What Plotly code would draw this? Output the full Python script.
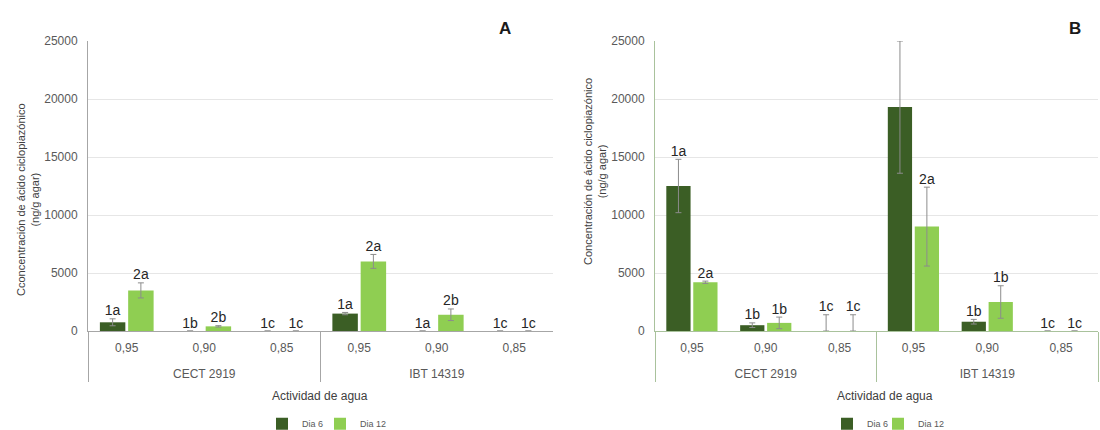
import plotly.graph_objects as go

# Categories: strain (outer level) and water activity (inner level)
strains = ["CECT 2919", "IBT 14319"]
water_activity = ["0,95", "0,90", "0,85"]

# Panel A – CPA concentration (ng/g agar)
a_dia6 = [750, 0, 0, 1500, 0, 0]
a_dia6_err = [300, None, None, 100, None, None]
a_dia12 = [3500, 400, 0, 6000, 1400, 0]
a_dia12_err = [650, 60, None, 600, 500, None]
a_dia6_lbl = ["1a", "1b", "1c", "1a", "1a", "1c"]
a_dia12_lbl = ["2a", "2b", "1c", "2a", "2b", "1c"]

# Panel B – CPA concentration (ng/g agar)
b_dia6 = [12500, 500, 0, 19300, 800, 0]
b_dia6_err = [2300, 200, 1400, 5700, 200, None]
b_dia12 = [4200, 700, 0, 9000, 2500, 0]
b_dia12_err = [100, 500, 1400, 3400, 1400, None]
b_dia6_lbl = ["1a", "1b", "1c", "1a", "1b", "1c"]
b_dia12_lbl = ["2a", "1b", "1c", "2a", "1b", "1c"]

series_names = ["Dia 6", "Dia 12"]
colors = ["#3b5e25", "#8fce52"]

FONT = "Liberation Sans, Arial, sans-serif"
TICK_COLOR = "#595959"

# Two-level category axis; the strain row is pushed down one blank line
x_multi = [
    ["<br>" + s for s in strains for _ in water_activity],
    [w for _ in strains for w in water_activity],
]


def top_of(vals, errs):
    return [v + (e or 0) for v, e in zip(vals, errs)]


def minus_of(vals, errs):
    return [None if e is None else (0 if v == 0 else e) for v, e in zip(vals, errs)]


fig = go.Figure()

panels = [
    ("x", "y", ["legend", "legend3"], [a_dia6, a_dia12], [a_dia6_err, a_dia12_err],
     [a_dia6_lbl, a_dia12_lbl]),
    ("x2", "y2", ["legend2", "legend4"], [b_dia6, b_dia12], [b_dia6_err, b_dia12_err],
     [b_dia6_lbl, b_dia12_lbl]),
]

for xa, ya, lgs, vals, errs, lbls in panels:
    for i in range(2):
        fig.add_trace(go.Bar(
            x=x_multi, y=vals[i], name=series_names[i],
            marker=dict(color=colors[i], line=dict(width=0)),
            error_y=dict(type="data", symmetric=False, array=errs[i],
                         arrayminus=minus_of(vals[i], errs[i]),
                         color="#8c8c8c", thickness=1, width=3),
            offsetgroup=f"g{i}", xaxis=xa, yaxis=ya, legend=lgs[i],
        ))
    for i in range(2):
        fig.add_trace(go.Scatter(
            x=x_multi, y=top_of(vals[i], errs[i]), text=lbls[i],
            mode="text", textposition="top center",
            textfont=dict(family=FONT, size=14, color="#262626"),
            offsetgroup=f"g{i}", showlegend=False, hoverinfo="skip",
            xaxis=xa, yaxis=ya,
        ))

W, H = 1100, 430
y_dom = [1 - 331 / H, 1 - 41 / H]

xcommon = dict(
    type="multicategory", showline=True, showgrid=False, ticks="",
    tickfont=dict(family=FONT, size=12, color=TICK_COLOR),
    showdividers=True, dividerwidth=1, ticklabelstandoff=6,
)
ycommon = dict(
    range=[0, 25000], dtick=5000, tickformat="d", showgrid=True,
    gridcolor="#e6e6e6", gridwidth=1, showline=True, ticks="",
    tickfont=dict(family=FONT, size=12, color=TICK_COLOR),
    zeroline=False, ticklabelstandoff=7,
)

legend_common = dict(
    orientation="h", xanchor="left", yanchor="bottom", y=-0.019,
    font=dict(family=FONT, size=9, color=TICK_COLOR),
    itemwidth=30, bgcolor="rgba(0,0,0,0)",
)

fig.update_layout(
    width=W, height=H,
    margin=dict(l=0, r=0, t=0, b=0, autoexpand=False),
    paper_bgcolor="white", plot_bgcolor="white",
    barmode="group", bargap=0.27, bargroupgap=0.1,
    scattermode="group", scattergap=0.27,
    xaxis=dict(domain=[88 / W, 553 / W], anchor="y", linecolor="#a6a6a6",
               dividercolor="#a6a6a6", **xcommon),
    yaxis=dict(domain=y_dom, anchor="x", linecolor="#a6a6a6", **ycommon),
    xaxis2=dict(domain=[655 / W, 1098 / W], anchor="y2", linecolor="#a9c29c",
                dividercolor="#a9c29c", **xcommon),
    yaxis2=dict(domain=y_dom, anchor="x2", linecolor="#a9c29c", **ycommon),
    legend=dict(x=262 / W, **legend_common),
    legend3=dict(x=320 / W, **legend_common),
    legend2=dict(x=827 / W, **legend_common),
    legend4=dict(x=878 / W, **legend_common),
    showlegend=True,
)

ann_font = dict(family=FONT, size=11, color="#404040")
paper = dict(xref="paper", yref="paper", showarrow=False, xanchor="center", yanchor="middle")
annotations = [
    dict(text="Cconcentración de ácido ciclopiazónico<br>(ng/g agar)", textangle=-90,
         x=28 / W, y=1 - 200 / H, font=ann_font, **paper),
    dict(text="Concentración de ácido ciclopiazónico<br>(ng/g agar)", textangle=-90,
         x=595 / W, y=1 - 172 / H, font=ann_font, **paper),
    dict(text="Actividad de agua", x=320 / W, y=1 - 396 / H, font=dict(ann_font, size=12), **paper),
    dict(text="Actividad de agua", x=885 / W, y=1 - 396 / H, font=dict(ann_font, size=12), **paper),
    dict(text="<b>A</b>", x=505 / W, y=1 - 28 / H,
         font=dict(family=FONT, size=17, color="#1a1a1a"), **paper),
    dict(text="<b>B</b>", x=1075 / W, y=1 - 28 / H,
         font=dict(family=FONT, size=17, color="#1a1a1a"), **paper),
]
fig.update_layout(annotations=annotations)

fig.write_html("out.html")
